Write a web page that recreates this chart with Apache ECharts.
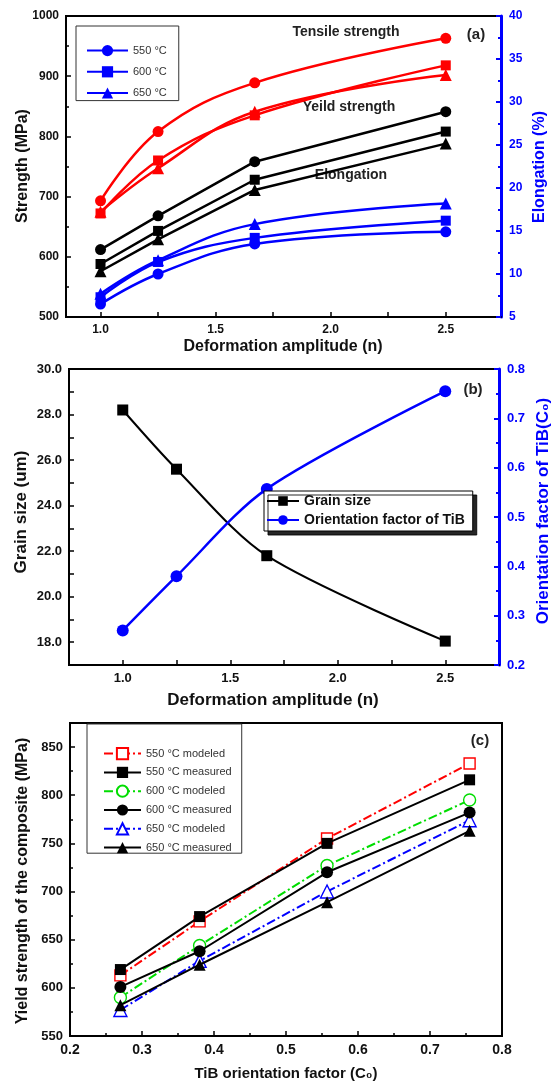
<!DOCTYPE html>
<html>
<head>
<meta charset="utf-8">
<script src="https://cdn.jsdelivr.net/npm/echarts@6/dist/echarts.min.js"></script>
<style>
  html, body { margin: 0; padding: 0; background: #fff; }
  #chart { width: 553px; height: 1084px; }
</style>
</head>
<body>
<div id="chart"></div>
<script>
// (a) strength / elongation vs deformation amplitude
const ampA = [1.0, 1.25, 1.67, 2.5];
const tensile550 = [693, 808, 889, 963];
const tensile600 = [672, 760, 835, 918];
const tensile650 = [675, 747, 841, 902];
const yield550 = [612, 668, 758, 841];
const yield600 = [588, 643, 728, 808];
const yield650 = [576, 629, 711, 788];
const elong550 = [6.5, 10.0, 13.5, 14.9];
const elong600 = [7.3, 11.4, 14.2, 16.2];
const elong650 = [7.7, 11.6, 15.8, 18.2];

// (b) grain size / orientation factor
const ampB = [1.0, 1.25, 1.67, 2.5];
const grainSize = [28.2, 25.6, 21.8, 18.05];
const orientFactor = [0.27, 0.38, 0.557, 0.755];

// (c) yield strength vs orientation factor
const orientC = [0.27, 0.38, 0.557, 0.755];
const mod550 = [613, 669, 755, 833];
const meas550 = [619, 674, 750, 816];
const mod600 = [590, 644, 727, 795];
const meas600 = [601, 638, 720, 782];
const mod650 = [577, 628, 700, 774];
const meas650 = [582, 624, 689, 763];

// tick labels
const ampLabels = [1.0, 1.5, 2.0, 2.5];
const ampTicks = [1.0, 1.25, 1.5, 1.75, 2.0, 2.25, 2.5];
const grainLabels = [18, 20, 22, 24, 26, 28, 30];
const grainTicks = [17, 18, 19, 20, 21, 22, 23, 24, 25, 26, 27, 28, 29, 30];

const FONT = 'Liberation Sans, Arial, sans-serif';
const RED = '#ff0000', BLUE = '#0000ff', GREEN = '#00dd00', BLACK = '#000000';
const dashDot = [9, 3, 2, 3];

const pairs = (xs, ys) => xs.map((x, i) => [x, ys[i]]);

function line(name, xi, yi, xs, ys, color, symbol, size, opts) {
  opts = opts || {};
  return {
    name: name,
    type: 'line',
    xAxisIndex: xi,
    yAxisIndex: yi,
    data: pairs(xs, ys),
    smooth: opts.smooth || false,
    symbol: symbol,
    symbolSize: size,
    lineStyle: { color: color, width: opts.width || 2.2, type: opts.type || 'solid' },
    // open markers: white fill with coloured outline
    itemStyle: opts.empty
      ? { color: '#fff', borderColor: color, borderWidth: 1.4 }
      : { color: color, borderWidth: 0 },
    emphasis: { disabled: true },
    z: opts.z || 3
  };
}

const tickLabel = (size, color) => ({
  fontSize: size, fontWeight: 'bold', color: color || '#111', fontFamily: FONT
});

const chartDom = document.getElementById('chart');
const myChart = echarts.init(chartDom, null, { renderer: 'canvas' });

const option = {
  animation: false,
  backgroundColor: '#fff',
  grid: [
    { left: 66, top: 16, width: 435, height: 301, show: true, borderColor: BLACK, borderWidth: 2, outerBoundsMode: 'none', containLabel: false },
    { left: 69, top: 369, width: 430, height: 296, show: true, borderColor: BLACK, borderWidth: 2, outerBoundsMode: 'none', containLabel: false },
    { left: 70, top: 723, width: 432, height: 313, show: true, borderColor: BLACK, borderWidth: 2, outerBoundsMode: 'none', containLabel: false }
  ],
  xAxis: [
    {
      gridIndex: 0, type: 'value', min: 0.85, max: 2.74,
      axisLine: { lineStyle: { color: BLACK, width: 2 } },
      axisTick: { inside: true, length: 5, customValues: ampTicks, lineStyle: { color: BLACK, width: 1.5 } },
      axisLabel: { customValues: ampLabels, formatter: v => v.toFixed(1), margin: 7, ...tickLabel(12) },
      splitLine: { show: false }
    },
    {
      gridIndex: 1, type: 'value', min: 0.75, max: 2.75,
      axisLine: { lineStyle: { color: BLACK, width: 2 } },
      axisTick: { inside: true, length: 5, customValues: ampTicks, lineStyle: { color: BLACK, width: 1.5 } },
      axisLabel: { customValues: ampLabels, formatter: v => v.toFixed(1), margin: 7, ...tickLabel(13) },
      splitLine: { show: false }
    },
    {
      gridIndex: 2, type: 'value', min: 0.2, max: 0.8, interval: 0.1,
      axisLine: { lineStyle: { color: BLACK, width: 2 } },
      axisTick: { inside: true, length: 5, lineStyle: { color: BLACK, width: 1.5 } },
      minorTick: { show: true, splitNumber: 2, length: 3, lineStyle: { color: BLACK, width: 1.5 } },
      axisLabel: { formatter: v => v.toFixed(1), margin: 7, ...tickLabel(14) },
      splitLine: { show: false }
    }
  ],
  yAxis: [
    {
      gridIndex: 0, type: 'value', min: 500, max: 1000, interval: 100, position: 'left',
      axisLine: { show: true, lineStyle: { color: BLACK, width: 2 } },
      axisTick: { inside: true, length: 5, lineStyle: { color: BLACK, width: 1.5 } },
      minorTick: { show: true, splitNumber: 2, length: 3, lineStyle: { color: BLACK, width: 1.5 } },
      axisLabel: { formatter: v => String(v), margin: 7, ...tickLabel(12) },
      splitLine: { show: false }
    },
    {
      gridIndex: 0, type: 'value', min: 5, max: 40, interval: 5, position: 'right',
      axisLine: { show: true, lineStyle: { color: BLUE, width: 3 } },
      axisTick: { inside: true, length: 5, lineStyle: { color: BLUE, width: 2 } },
      minorTick: { show: true, splitNumber: 2, length: 3, lineStyle: { color: BLUE, width: 2 } },
      axisLabel: { margin: 8, ...tickLabel(12, BLUE) },
      splitLine: { show: false }
    },
    {
      gridIndex: 1, type: 'value', min: 17, max: 30, position: 'left',
      axisLine: { show: true, lineStyle: { color: BLACK, width: 2 } },
      axisTick: { inside: true, length: 5, customValues: grainTicks, lineStyle: { color: BLACK, width: 1.5 } },
      axisLabel: { customValues: grainLabels, formatter: v => v.toFixed(1), margin: 7, ...tickLabel(13) },
      splitLine: { show: false }
    },
    {
      gridIndex: 1, type: 'value', min: 0.2, max: 0.8, interval: 0.1, position: 'right',
      axisLine: { show: true, lineStyle: { color: BLUE, width: 3 } },
      axisTick: { inside: true, length: 5, lineStyle: { color: BLUE, width: 2 } },
      minorTick: { show: true, splitNumber: 2, length: 3, lineStyle: { color: BLUE, width: 2 } },
      axisLabel: { formatter: v => v.toFixed(1), margin: 8, ...tickLabel(13, BLUE) },
      splitLine: { show: false }
    },
    {
      gridIndex: 2, type: 'value', min: 550, max: 875, interval: 50, position: 'left',
      axisLine: { show: true, lineStyle: { color: BLACK, width: 2 } },
      axisTick: { inside: true, length: 5, lineStyle: { color: BLACK, width: 1.5 } },
      minorTick: { show: true, splitNumber: 2, length: 3, lineStyle: { color: BLACK, width: 1.5 } },
      axisLabel: { showMaxLabel: false, formatter: v => String(v), margin: 7, ...tickLabel(13) },
      splitLine: { show: false }
    }
  ],
  legend: [
    {
      data: ['550 °C', '600 °C', '650 °C'],
      orient: 'vertical', left: 76, top: 26,
      padding: [19, 12, 2, 10], itemWidth: 41, itemHeight: 14, itemGap: 10,
      borderColor: '#333', borderWidth: 1, backgroundColor: '#fff',
      selectedMode: false,
      textStyle: { fontSize: 11, color: '#333', fontFamily: FONT }
    },
    {
      data: ['Grain size', 'Orientation factor of TiB'],
      orient: 'vertical', left: 264, top: 491,
      padding: [3, 8, 4, 2], itemWidth: 32, itemHeight: 12, itemGap: 5,
      borderColor: BLACK, borderWidth: 1, backgroundColor: '#fff',
      shadowColor: 'rgba(0,0,0,0.85)', shadowBlur: 0, shadowOffsetX: 4, shadowOffsetY: 4,
      selectedMode: false,
      textStyle: { fontSize: 14, fontWeight: 'bold', color: '#111', fontFamily: FONT }
    },
    {
      data: ['550 °C modeled', '550 °C measured', '600 °C modeled', '600 °C measured', '650 °C modeled', '650 °C measured'],
      orient: 'vertical', left: 87, top: 724,
      padding: [23, 10, 0, 16], itemWidth: 37, itemHeight: 14, itemGap: 6.6,
      borderColor: '#333', borderWidth: 1, backgroundColor: '#fff',
      selectedMode: false,
      textStyle: { fontSize: 11, color: '#333', fontFamily: FONT }
    }
  ],
  series: [
    // (a) elongation, right axis (these carry the legend names)
    line('550 °C', 0, 1, ampA, elong550, BLUE, 'circle', 11, { smooth: 0.4, width: 2.5 }),
    line('600 °C', 0, 1, ampA, elong600, BLUE, 'rect', 10, { smooth: 0.4, width: 2.5 }),
    line('650 °C', 0, 1, ampA, elong650, BLUE, 'triangle', 12, { smooth: 0.4, width: 2.5 }),
    // (a) yield strength
    line('YS 550', 0, 0, ampA, yield550, BLACK, 'circle', 11, { width: 2.5 }),
    line('YS 600', 0, 0, ampA, yield600, BLACK, 'rect', 10, { width: 2.5 }),
    line('YS 650', 0, 0, ampA, yield650, BLACK, 'triangle', 12, { width: 2.5 }),
    // (a) tensile strength
    line('UTS 550', 0, 0, ampA, tensile550, RED, 'circle', 11, { smooth: 0.4, width: 2.5 }),
    line('UTS 600', 0, 0, ampA, tensile600, RED, 'rect', 10, { smooth: 0.4, width: 2.5 }),
    line('UTS 650', 0, 0, ampA, tensile650, RED, 'triangle', 12, { smooth: 0.4, width: 2.5 }),
    // (b)
    line('Grain size', 1, 2, ampB, grainSize, BLACK, 'rect', 11, { smooth: 0.3, width: 2 }),
    line('Orientation factor of TiB', 1, 3, ampB, orientFactor, BLUE, 'circle', 12, { smooth: 0.3, width: 2.5 }),
    // (c)
    line('550 °C modeled', 2, 4, orientC, mod550, RED, 'rect', 11, { type: dashDot, empty: true, width: 2 }),
    line('550 °C measured', 2, 4, orientC, meas550, BLACK, 'rect', 11, { width: 2, z: 4 }),
    line('600 °C modeled', 2, 4, orientC, mod600, GREEN, 'circle', 12, { type: dashDot, empty: true, width: 2 }),
    line('600 °C measured', 2, 4, orientC, meas600, BLACK, 'circle', 12, { width: 2, z: 4 }),
    line('650 °C modeled', 2, 4, orientC, mod650, BLUE, 'triangle', 13, { type: dashDot, empty: true, width: 2 }),
    line('650 °C measured', 2, 4, orientC, meas650, BLACK, 'triangle', 12, { width: 2, z: 4 })
  ],
  graphic: [
    // axis titles
    { type: 'text', x: 23, y: 166, rotation: Math.PI / 2, style: { text: 'Strength (MPa)', font: 'bold 16px ' + FONT, fill: '#111', align: 'center', verticalAlign: 'middle' } },
    { type: 'text', x: 540, y: 167, rotation: Math.PI / 2, style: { text: 'Elongation (%)', font: 'bold 16px ' + FONT, fill: BLUE, align: 'center', verticalAlign: 'middle' } },
    { type: 'text', x: 283, y: 347, style: { text: 'Deformation amplitude (n)', font: 'bold 16px ' + FONT, fill: '#111', align: 'center', verticalAlign: 'middle' } },
    { type: 'text', x: 21, y: 512, rotation: Math.PI / 2, style: { text: 'Grain size (um)', font: 'bold 17px ' + FONT, fill: '#111', align: 'center', verticalAlign: 'middle' } },
    { type: 'text', x: 543, y: 511, rotation: Math.PI / 2, style: { text: 'Orientation factor of TiB(C₀)', font: 'bold 17px ' + FONT, fill: BLUE, align: 'center', verticalAlign: 'middle' } },
    { type: 'text', x: 273, y: 700, style: { text: 'Deformation amplitude (n)', font: 'bold 17px ' + FONT, fill: '#111', align: 'center', verticalAlign: 'middle' } },
    { type: 'text', x: 23, y: 881, rotation: Math.PI / 2, style: { text: 'Yield strength of the composite (MPa)', font: 'bold 16px ' + FONT, fill: '#111', align: 'center', verticalAlign: 'middle' } },
    { type: 'text', x: 286, y: 1074, style: { text: 'TiB orientation factor (C₀)', font: 'bold 15px ' + FONT, fill: '#111', align: 'center', verticalAlign: 'middle' } },
    // in-plot annotations
    { type: 'text', x: 346, y: 32, style: { text: 'Tensile strength', font: 'bold 14px ' + FONT, fill: '#222', align: 'center', verticalAlign: 'middle' } },
    { type: 'text', x: 349, y: 107, style: { text: 'Yeild strength', font: 'bold 14px ' + FONT, fill: '#222', align: 'center', verticalAlign: 'middle' } },
    { type: 'text', x: 351, y: 175, style: { text: 'Elongation', font: 'bold 14px ' + FONT, fill: '#222', align: 'center', verticalAlign: 'middle' } },
    { type: 'text', x: 476, y: 35, style: { text: '(a)', font: 'bold 15px ' + FONT, fill: '#222', align: 'center', verticalAlign: 'middle' } },
    { type: 'text', x: 473, y: 390, style: { text: '(b)', font: 'bold 15px ' + FONT, fill: '#222', align: 'center', verticalAlign: 'middle' } },
    { type: 'text', x: 480, y: 741, style: { text: '(c)', font: 'bold 15px ' + FONT, fill: '#222', align: 'center', verticalAlign: 'middle' } }
  ]
};

option && myChart.setOption(option);
</script>
</body>
</html>
